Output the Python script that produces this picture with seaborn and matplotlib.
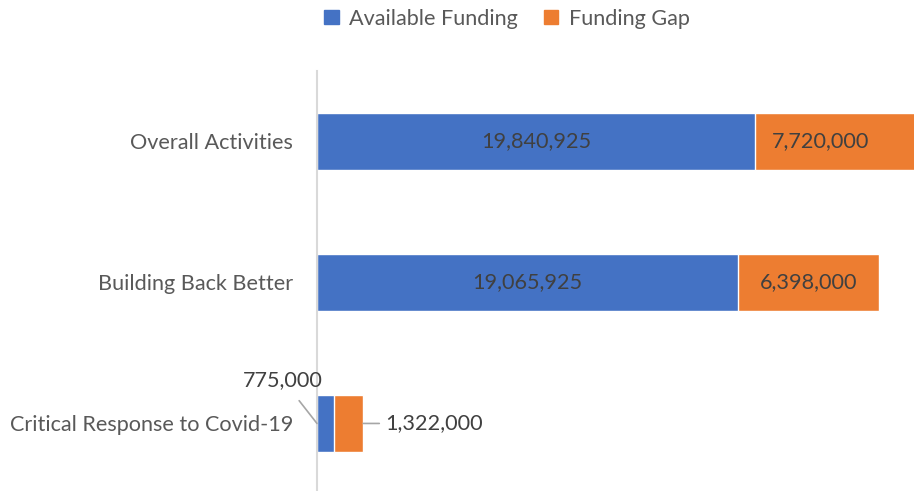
import numpy as np
import pandas as pd
import seaborn as sns
import matplotlib.pyplot as plt
from matplotlib.patches import Patch

sns.set_style('white')
plt.rcParams['font.family'] = ['Lato', 'DejaVu Sans']

# data
categories = ['Overall Activities', 'Building Back Better', 'Critical Response to Covid-19']
available = [19840925, 19065925, 775000]
gap = [7720000, 6398000, 1322000]

blue = '#4472C4'
orange = '#ED7D31'
label_col = '#595959'
text_col = '#404040'
fs = 15.6

df = pd.DataFrame({'Category': categories, 'Available': available, 'Gap': gap})
df['Total'] = df['Available'] + df['Gap']

fig = plt.figure(figsize=(9.14, 4.91), dpi=100)
ax = fig.add_axes([0.3468, -0.006, 0.6764, 0.8615])

# stacked bars: total in orange, available on top in blue
sns.barplot(data=df, y='Category', x='Total', color=orange, width=0.4,
            edgecolor='white', linewidth=1, saturation=1, ax=ax)
sns.barplot(data=df, y='Category', x='Available', color=blue, width=0.4,
            edgecolor='white', linewidth=1, saturation=1, ax=ax)

ax.set_xlim(0, 28e6)
ax.set_ylim(2.5, -0.5)
ax.set_xlabel('')
ax.set_ylabel('')
ax.set_xticks([])
ax.tick_params(axis='y', length=0, pad=17, labelsize=fs, labelcolor=label_col)
for s in ['top', 'right', 'bottom']:
    ax.spines[s].set_visible(False)
ax.spines['left'].set_color('#D9D9D9')
ax.spines['left'].set_linewidth(1.5)

# data labels
x_vis = 25.8e6  # visible right end used for centring the clipped segment
for i, row in df.iterrows():
    a, g, t = row['Available'], row['Gap'], row['Total']
    if a > 5e6:
        ax.text(a / 2, i, f'{a:,}', ha='center', va='center', fontsize=fs, color=text_col)
        ax.text((a + min(t, x_vis)) / 2, i, f'{g:,}', ha='center', va='center',
                fontsize=fs, color=text_col)
    else:
        ax.annotate(f'{a:,}', xy=(0, i), xytext=(-1.55e6, i - 0.31),
                    ha='center', va='center', fontsize=fs, color=text_col,
                    arrowprops=dict(arrowstyle='-', color='#A6A6A6', lw=1.2,
                                    shrinkA=7, shrinkB=0))
        ax.annotate(f'{g:,}', xy=(t, i), xytext=(t + 1.0e6, i),
                    ha='left', va='center', fontsize=fs, color=text_col,
                    arrowprops=dict(arrowstyle='-', color='#A6A6A6', lw=1.2,
                                    shrinkA=2, shrinkB=0))

handles = [Patch(color=blue, label='Available Funding'), Patch(color=orange, label='Funding Gap')]
fig.legend(handles=handles, loc='center', bbox_to_anchor=(0.555, 0.962), ncol=2,
           frameon=False, fontsize=fs, labelcolor=label_col, handlelength=0.65,
           handleheight=0.65, handletextpad=0.5, columnspacing=1.2)

fig.savefig('out.png', dpi=100)
